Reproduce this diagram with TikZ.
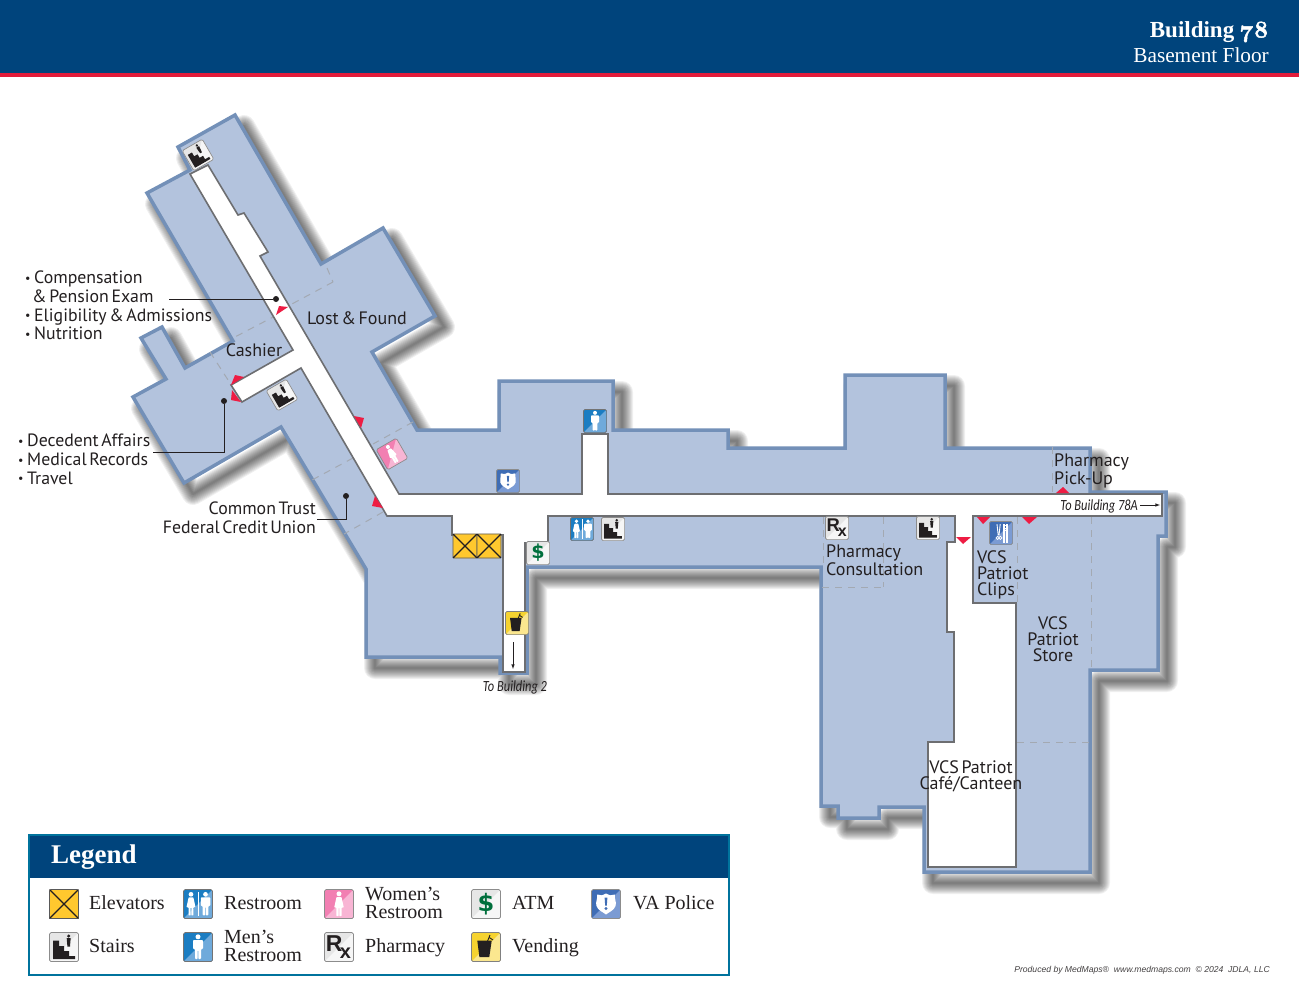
\documentclass[tikz,border=0pt]{standalone}
\usepackage{fontspec}
\setmainfont[WordSpace=.55]{PT Sans}
\newfontfamily\legendfont{Liberation Serif}
\newfontfamily\oldfigs[Numbers=OldStyle,FakeBold=2]{Latin Modern Roman}
\newfontfamily\smallfont[FakeStretch=.8]{Carlito}
\newfontfamily\creditfont{Liberation Sans}
\newfontfamily\glyphfont{DejaVu Sans}
\newfontfamily\rxfont{Liberation Sans}
\definecolor{navy}{HTML}{00447C}
\definecolor{stripe}{HTML}{E31B3A}
\definecolor{planfill}{HTML}{B3C3DD}
\definecolor{planedge}{HTML}{7390B8}
\definecolor{halledge}{HTML}{6D6E71}
\definecolor{roomdash}{HTML}{A3A9B2}
\definecolor{doormark}{HTML}{EE1C43}
\definecolor{ink}{HTML}{231F20}
\definecolor{greydark}{HTML}{E6E6E6}
\definecolor{greylight}{HTML}{F6F6F6}
\definecolor{elevyellow}{HTML}{FFC82E}
\definecolor{menblue}{HTML}{1B7DC2}
\definecolor{menlight}{HTML}{6FAADB}
\definecolor{pinkdark}{HTML}{F27FB2}
\definecolor{pinklight}{HTML}{F8B5D4}
\definecolor{policeblue}{HTML}{3F6DB5}
\definecolor{policelight}{HTML}{7B9BD3}
\definecolor{vendyellow}{HTML}{F6D330}
\definecolor{vendlight}{HTML}{FBE78F}
\definecolor{atmgreen}{HTML}{006F3C}
\newcommand{\planoutline}{(178,147) -- (235,115) -- (321,264) -- (383,228) -- (435,316) -- (372,352) -- (417,430) -- (499,430) -- (499,381) -- (613,381) -- (613,430) -- (728,430) -- (728,448) -- (845,448) -- (845,375) -- (945,375) -- (945,448) -- (1090,448) -- (1090,492) -- (1166,492) -- (1166,536) -- (1158,536) -- (1158,670) -- (1090,670) -- (1090,872) -- (924,872) -- (924,807) -- (879,807) -- (879,818) -- (838,818) -- (838,806) -- (821,806) -- (821,567) -- (527,567) -- (527,673) -- (500,673) -- (500,657) -- (366,657) -- (366,569) -- (281,427) -- (184,483) -- (133,397) -- (166,379) -- (141,338) -- (162,327) -- (185,368) -- (233,341) -- (147,193) -- (190,170) -- cycle}
\newcommand{\iconbg}[3]{
  \fill[#1, rounded corners=1.5pt] (-14.5,-14.5) rectangle (14.5,14.5);
  \fill[#2, rounded corners=1.5pt] (14.5,-14.5) -- (14.5,14.5) -- (-14.5,14.5) -- cycle;
  \draw[#3, line width=.7pt, rounded corners=1.5pt] (-14.5,-14.5) rectangle (14.5,14.5);
}
\newcommand{\manfig}[2]{
  \begin{scope}[shift={(#1,0)}, scale=#2]
    \fill (0,-10.2) circle (2.5);
    \fill[rounded corners=.8pt] (-5,-7) -- (5,-7) -- (5,2) -- (3,2) -- (3,12) -- (.3,12) -- (.3,3) -- (-.3,3) -- (-.3,12) -- (-3,12) -- (-3,2) -- (-5,2) -- cycle;
  \end{scope}
}
\newcommand{\womanfig}[2]{
  \begin{scope}[shift={(#1,0)}, scale=#2]
    \fill (0,-10.2) circle (2.5);
    \fill[rounded corners=.6pt] (-2.5,-7) -- (2.5,-7) -- (4.8,3.5) -- (2.6,3.5) -- (2.6,12) -- (.3,12) -- (.3,3.5) -- (-.3,3.5) -- (-.3,12) -- (-2.6,12) -- (-2.6,3.5) -- (-4.8,3.5) -- cycle;
  \end{scope}
}
\newcommand{\bul}{\makebox[9pt][l]{\fontsize{12}{12}\selectfont\raisebox{1.2pt}{\textbullet}}}
\tikzset{
  x=1pt, y=-1pt,
  maplabel/.style={font=\fontsize{18}{16.3}\selectfont, text=ink, inner sep=0pt, align=left},
  listlabel/.style={font=\fontsize{17.8}{18.6}\selectfont, text=ink, inner sep=0pt, align=left, anchor=north west},
  legendlabel/.style={font=\legendfont\fontsize{20}{18.5}\selectfont, text=ink, inner sep=0pt, align=left, anchor=west},
  legendword/.style={font=\legendfont\fontsize{20}{18.5}\selectfont, text=ink, inner sep=0pt, anchor=base west},
  tolabel/.style={font=\smallfont\itshape\fontsize{15.5}{16}\selectfont, text=ink, inner sep=0pt},
  leader/.style={ink, line width=1pt},
  leaddot/.style={circle, fill=ink, minimum size=6pt, inner sep=0pt},
  hallarrow/.style={ink, line width=.6pt, -latex},
  roomline/.style={roomdash, line width=1pt, dash pattern=on 7pt off 6pt},
  iconstairs/.pic={
    \iconbg{greydark}{greylight}{black!45}
    \fill[ink] (-11,-6.5) -- (-5,-6.5) -- (-5,-1) -- (0,-1) -- (0,4) -- (5,4) -- (5,9) -- (11,9) -- (11,12) -- (-11,12) -- cycle;
    \fill[ink] (4.7,-11) circle (1.7);
    \fill[ink] (2.7,-9) -- (6.7,-9) -- (6,-.5) -- (3.4,-.5) -- cycle;
  },
  iconelevator/.pic={
    \iconbg{elevyellow}{elevyellow}{black!65}
    \draw[ink, line width=1.2pt] (-14.5,-14.5) -- (14.5,14.5) (14.5,-14.5) -- (-14.5,14.5);
  },
  iconrestroom/.pic={
    \iconbg{menblue}{menlight}{black!55}
    \begin{scope}[white]
      \womanfig{-7}{.95}
      \manfig{7.5}{.95}
      \fill (-.4,-12) rectangle (.8,12);
    \end{scope}
  },
  iconmen/.pic={
    \iconbg{menblue}{menlight}{black!55}
    \begin{scope}[white] \manfig{0}{1} \end{scope}
  },
  iconwomen/.pic={
    \iconbg{pinkdark}{pinklight}{black!45}
    \begin{scope}[white] \womanfig{0}{1} \end{scope}
  },
  iconrx/.pic={
    \iconbg{greydark}{greylight}{black!45}
    \node[transform shape, inner sep=0pt, text=ink] (-letter) at (-.5,0) {\rxfont\bfseries\fontsize{23}{23}\selectfont R\kern-2.5pt\raisebox{-6.5pt}{\fontsize{20}{20}\selectfont x}};
  },
  iconatm/.pic={
    \iconbg{greydark}{greylight}{black!45}
    \node[transform shape, inner sep=0pt, text=atmgreen] (-sign) at (0,0) {\glyphfont\bfseries\fontsize{24}{24}\selectfont\$};
  },
  iconpolice/.pic={
    \iconbg{policeblue}{policelight}{black!45}
    \fill[white] (0,-10.5) -- (4,-8.7) -- (9,-9.5) .. controls (8,-5) and (11,-2) .. (9.5,2) .. controls (8,6.5) and (3,8) .. (0,10.5) .. controls (-3,8) and (-8,6.5) .. (-9.5,2) .. controls (-11,-2) and (-8,-5) .. (-9,-9.5) -- (-4,-8.7) -- cycle;
    \fill[policeblue] (-1.4,-6.5) -- (1.4,-6.5) -- (.8,1.5) -- (-.8,1.5) -- cycle (0,4.5) circle (1.6);
  },
  iconvending/.pic={
    \iconbg{vendyellow}{vendlight}{black!50}
    \fill[ink] (-8.7,-6.3) -- (5.7,-6.3) -- (3.3,10) -- (-6.6,10) -- cycle;
    \draw[ink, line width=.9pt] (1.3,-5.3) -- (4,-12) (3.2,-9.5) -- (7,-7);
  },
  iconclips/.pic={
    \iconbg{policeblue}{policelight}{black!45}
    \begin{scope}[white]
      \draw[line width=.9pt] (-5,-11) -- (-3.5,3) (-1,-11) -- (-2.5,3);
      \draw[line width=.7pt] (-4.2,6) circle (2) (-.8,6) circle (2);
      \fill (3,-11) rectangle (4.5,12);
      \fill (6,-11) rectangle (8.5,12);
      \draw[line width=.8pt] (4,-9) -- (8,-9) (4,-6) -- (8,-6) (4,-3) -- (8,-3);
    \end{scope}
  }
}
\begin{document}
\begin{tikzpicture}
  \useasboundingbox (0,0) rectangle (1299,1004);
  \fill[white] (0,0) rectangle (1299,1004);
  \fill[navy] (0,0) rectangle (1299,73);
  \fill[stripe] (0,73) rectangle (1299,77);
  \node[anchor=east, inner sep=0pt, text=white, font=\legendfont\bfseries\fontsize{23}{24}\selectfont] (buildingName) at (1269,32) {Building {\oldfigs\fontsize{24}{24}\selectfont 78}};
  \node[anchor=east, inner sep=0pt, text=white, font=\legendfont\fontsize{21.3}{21}\selectfont] (floorName) at (1269,55.5) {Basement Floor};

  \foreach \w in {2,4,...,22}
    \draw[black, opacity=.06, line width=\w pt, line join=round, shift={(9,11)}] \planoutline;
  \draw[planedge, fill=planfill, line width=3.5pt, line join=miter] \planoutline;

  \foreach \xa/\ya/\xb/\yb in {327/268/333/282, 333/282/290/305, 277/315/233/338, 210/352/230/383, 413/422/373/444, 353/458/312/480, 383/512/344/534, 1052/447/1052/492, 1017/517/1017/603, 1091/517/1091/670, 883/517/883/587, 822/587/883/587, 823/517/823/567, 1017/742/1089/742}
    \draw[roomline] (\xa,\ya) -- (\xb,\yb);

  \draw[halledge, fill=white, line width=1.6pt, line join=miter] (190,174) -- (208,165) -- (238,215) -- (244,213) -- (268,252) -- (260,256) -- (399,494) -- (582,494) -- (582,434) -- (608,434) -- (608,494) -- (1162,494) -- (1162,516) -- (973,516) -- (973,603) -- (1016,603) -- (1016,867) -- (928,867) -- (928,742) -- (954,742) -- (954,632) -- (947,632) -- (947,542) -- (955,542) -- (955,516) -- (548,516) -- (548,543) -- (525,543) -- (525,672) -- (503,672) -- (503,535) -- (452,535) -- (452,516) -- (387,516) -- (301,368) -- (242,402) -- (231,385) -- (293,350) -- cycle;

  \foreach \xa/\ya/\xb/\yb/\xc/\yc in {276/315/288/307/279/306, 231/385/244/377/235/375, 232/390/241/402/231/400, 354/416/364/418/361/428, 375/496/383/508/372/506, 1056/493/1069/493/1063/487, 977/517/990/517/983/524, 1022/517/1037/517/1029/524, 956/537/971/537/963/544}
    \fill[doormark] (\xa,\ya) -- (\xb,\yb) -- (\xc,\yc) -- cycle;

  \pic[scale=.8, rotate=30] (stairsNorth) at (198,155) {iconstairs};
  \pic[scale=.8, rotate=30] (stairsCashier) at (282,395) {iconstairs};
  \pic[scale=.8, rotate=30] (womenMap) at (392,454) {iconwomen};
  \pic[scale=.8] (policeMap) at (508,481) {iconpolice};
  \pic[scale=.83] (elevatorA) at (465,546) {iconelevator};
  \pic[scale=.83] (elevatorB) at (489,546) {iconelevator};
  \pic[scale=.8] (atmMap) at (538,553) {iconatm};
  \pic[scale=.8] (vendingMap) at (517,623) {iconvending};
  \pic[scale=.8] (menMap) at (595,421) {iconmen};
  \pic[scale=.8] (restroomMap) at (582,529) {iconrestroom};
  \pic[scale=.8] (stairsHall) at (613,529) {iconstairs};
  \pic[scale=.8] (rxMap) at (837,528) {iconrx};
  \pic[scale=.8] (stairsEast) at (928,528) {iconstairs};
  \pic[scale=.8] (clipsMap) at (1001,533) {iconclips};

  \coordinate (arrowSouthA) at (513,642);
  \coordinate (arrowSouthB) at (513,669);
  \coordinate (arrowEastA) at (1140,505);
  \coordinate (arrowEastB) at (1160,505);
  \draw[hallarrow] (arrowSouthA) -- (arrowSouthB);
  \draw[hallarrow] (arrowEastA) -- (arrowEastB);

  \node[leaddot] (examDot) at (276,299) {};
  \node[leaddot] (recordsDot) at (224,401) {};
  \node[leaddot] (creditDot) at (346,496) {};
  \coordinate (examEnd) at (169,299);
  \coordinate (recordsEnd) at (153,452);
  \coordinate (creditEnd) at (317,519);
  \draw[leader] (examEnd) -- (examDot);
  \draw[leader] (recordsEnd) -| (recordsDot);
  \draw[leader] (creditEnd) -| (creditDot);

  \node[listlabel] (examList) at (25,271) {\bul Compensation\\\phantom{\bul}\kern-2pt\& Pension Exam\\\bul Eligibility \& Admissions\\\bul Nutrition};
  \node[listlabel] (recordsList) at (18,434) {\bul Decedent Affairs\\\bul Medical Records\\\bul Travel};
  \node[listlabel, anchor=north east, align=right] (creditLabel) at (316,502) {Common Trust\\Federal Credit Union};
  \node[maplabel] (lostLabel) at (357,318) {Lost \& Found};
  \node[maplabel] (cashierLabel) at (254,350) {Cashier};
  \node[maplabel, anchor=north west] (pickupLabel) at (1054,454) {Pharmacy\\Pick-Up};
  \node[maplabel, anchor=north west] (consultLabel) at (826,545) {Pharmacy\\Consultation};
  \node[maplabel, anchor=north west] (clipsLabel) at (977,550) {VCS\\Patriot\\Clips};
  \node[maplabel, anchor=north, align=center] (storeLabel) at (1053,616) {VCS\\Patriot\\Store};
  \node[maplabel, anchor=north, align=center] (cafeLabel) at (971,760) {VCS Patriot\\Café/Canteen};
  \node[tolabel] (southLabel) at (515,687) {To Building 2};
  \node[tolabel, anchor=east] (eastLabel) at (1138,506) {To Building 78A};

  \fill[navy] (29,835) rectangle (729,878);
  \draw[navy!75!cyan, line width=1.6pt] (29,835) rectangle (729,975);
  \node[anchor=west, inner sep=0pt, text=white, font=\legendfont\bfseries\fontsize{27}{27}\selectfont] (legendTitle) at (51,857) {Legend};

  \pic (legendElevator) at (64,904) {iconelevator};
  \pic (legendStairs) at (64,947) {iconstairs};
  \pic (legendRestroom) at (198,904) {iconrestroom};
  \pic (legendMen) at (198,947) {iconmen};
  \pic (legendWomen) at (339,904) {iconwomen};
  \pic (legendRx) at (339,947) {iconrx};
  \pic (legendAtm) at (486,904) {iconatm};
  \pic (legendVending) at (486,947) {iconvending};
  \pic (legendPolice) at (606,904) {iconpolice};

  \node[legendword] (txtElevators) at (89,909) {Elevators};
  \node[legendword] (txtStairs) at (89,952) {Stairs};
  \node[legendword] (txtRestroom) at (224,909) {Restroom};
  \node[legendlabel] (txtMen) at (224,946) {Men’s\\Restroom};
  \node[legendlabel] (txtWomen) at (365,903) {Women’s\\Restroom};
  \node[legendword] (txtPharmacy) at (365,952) {Pharmacy};
  \node[legendword] (txtAtm) at (512,909) {ATM};
  \node[legendword] (txtVending) at (512,952) {Vending};
  \node[legendword] (txtPolice) at (633,909) {VA Police};

  \node[anchor=east, inner sep=0pt, text=ink!85, font=\creditfont\itshape\fontsize{8.6}{8.8}\selectfont] (creditLine) at (1270,970) {Produced by MedMaps® \ www.medmaps.com \ © 2024 \ JDLA, LLC};
\end{tikzpicture}
\end{document}
